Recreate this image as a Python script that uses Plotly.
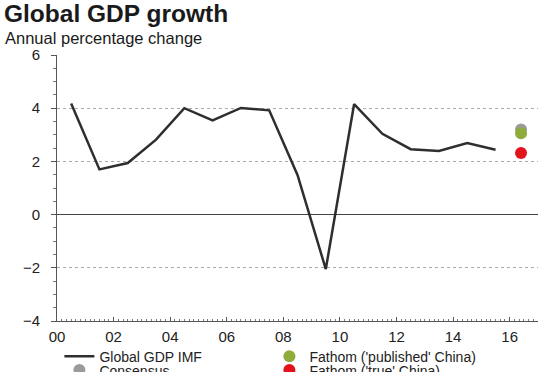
import plotly.graph_objects as go

# ---- data ----
years = [2000, 2001, 2002, 2003, 2004, 2005, 2006, 2007,
         2008, 2009, 2010, 2011, 2012, 2013, 2014, 2015]
gdp_imf = [4.18, 1.70, 1.94, 2.82, 4.00, 3.54, 4.01, 3.92,
           1.49, -2.05, 4.15, 3.04, 2.46, 2.39, 2.69, 2.44]
forecast_year = 2016
consensus = [3.20]
fathom_published = [3.06]
fathom_true = [2.32]
tick_years = [2000, 2002, 2004, 2006, 2008, 2010, 2012, 2014, 2016]
tick_labels = ["00", "02", "04", "06", "08", "10", "12", "14", "16"]
y_ticks = [-4, -2, 0, 2, 4, 6]

mid = 0.5
fx = [forecast_year + 0.4]
FONT = "Liberation Sans, Arial, sans-serif"

fig = go.Figure()
fig.add_trace(go.Scatter(
    x=[y + mid for y in years], y=gdp_imf, mode="lines",
    line=dict(color="#2e2e2e", width=2.5),
    name="Global GDP IMF", legend="legend", legendrank=1))
fig.add_trace(go.Scatter(
    x=fx, y=consensus, mode="markers",
    marker=dict(color="#9b9b9b", size=12),
    name="Consensus", legend="legend2", legendrank=1))
fig.add_trace(go.Scatter(
    x=fx, y=fathom_published, mode="markers",
    marker=dict(color="#8fab3c", size=12),
    name="Fathom ('published' China)", legend="legend", legendrank=2))
fig.add_trace(go.Scatter(
    x=fx, y=fathom_true, mode="markers",
    marker=dict(color="#e3131b", size=12),
    name="Fathom ('true' China)", legend="legend2", legendrank=2))

legend_style = dict(orientation="h", x=0.005, xanchor="left", yanchor="top",
                    entrywidth=165, font=dict(size=14, color="#222222"),
                    bgcolor="rgba(0,0,0,0)", traceorder="normal")

fig.update_layout(
    width=558, height=372,
    margin=dict(l=57, r=20, t=55, b=51, autoexpand=False),
    paper_bgcolor="white", plot_bgcolor="white",
    font=dict(family=FONT, color="#222222", size=14),
    hovermode=False,
    title=dict(text="<b>Global GDP growth</b>", x=4/558, xanchor="left",
               xref="container", y=1-13/372, yanchor="middle", yref="container",
               font=dict(size=24.5, color="#1a1a1a", family=FONT)),
    showlegend=True,
    legend=dict(y=-0.0735, **legend_style),
    legend2=dict(y=-0.126, **legend_style),
)

fig.add_annotation(text="Annual percentage change", xref="paper", yref="paper",
                   x=-54/481, y=(321-38)/266, xanchor="left", yanchor="middle",
                   showarrow=False, font=dict(size=16.5, color="#1a1a1a"))

fig.update_xaxes(
    range=[2000, 2017], tickvals=tick_years, ticktext=tick_labels,
    showgrid=False, zeroline=False,
    showline=True, linecolor="#555555", linewidth=1,
    ticks="inside", ticklen=4, tickcolor="#555555",
    minor=dict(ticks="inside", ticklen=2, dtick=1/6, tickcolor="#777777"),
    tickfont=dict(size=15), ticklabelstandoff=2)
fig.update_yaxes(
    range=[-4, 6], tickvals=y_ticks,
    showgrid=True, gridcolor="#aaaaaa", griddash="dot", gridwidth=1,
    zeroline=True, zerolinecolor="#444444", zerolinewidth=1,
    showline=True, linecolor="#555555", linewidth=1,
    ticks="outside", ticklen=5, tickcolor="#555555",
    minor=dict(ticks="outside", ticklen=3, dtick=0.5, tickcolor="#777777"),
    tickfont=dict(size=15), ticklabelstandoff=8)

fig.write_html("out.html", config={"displayModeBar": False},
               post_script="document.body.style.margin='0';document.body.style.overflow='hidden';")
